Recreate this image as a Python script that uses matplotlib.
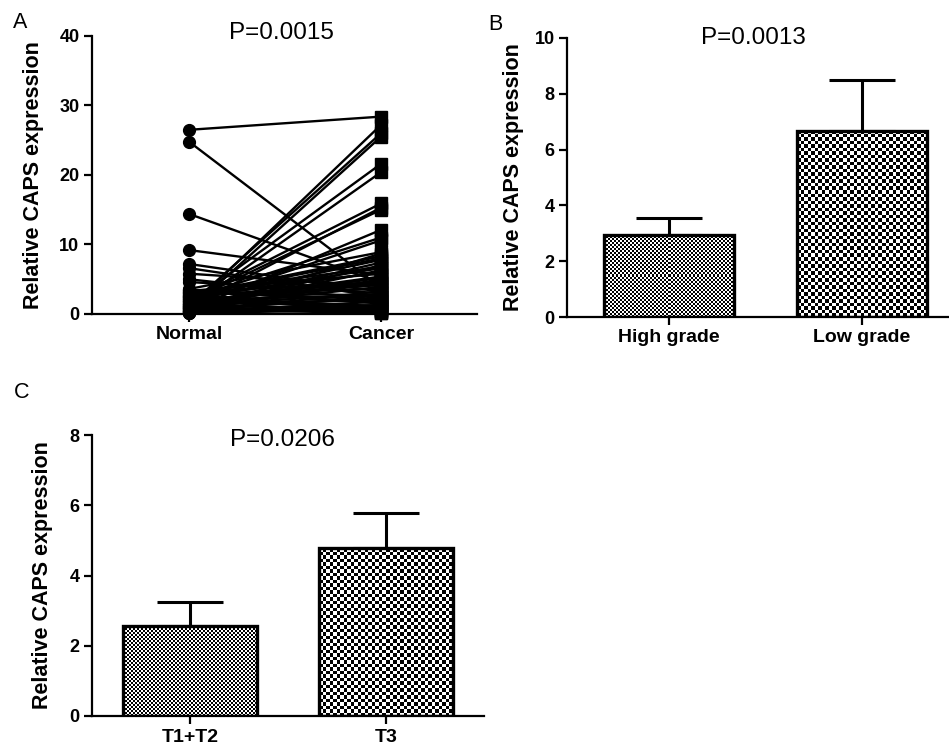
import numpy as np
import matplotlib
matplotlib.use("Agg")
import matplotlib.pyplot as plt

plt.rcParams['font.family'] = ['Liberation Sans', 'DejaVu Sans']

# Panel A: paired samples (normal -> cancer)
normal_vals = [26.5, 24.8, 14.4, 9.2, 7.2, 6.6, 5.8, 5.0, 4.6, 3.5,
               0.8, 1.2, 0.5, 1.5, 0.9, 2.0, 1.0, 1.8, 0.6, 2.2,
               1.4, 0.3, 2.6, 1.1, 3.0, 0.7, 2.4, 1.6, 0.4, 3.2,
               1.9, 2.8, 0.2, 1.3, 2.1, 0.9, 1.7, 3.4, 0.5, 2.5,
               1.2, 0.15, 2.9, 1.0, 0.35, 2.3, 0.6, 1.5, 3.1, 0.1,
               3.6, 2.7, 1.9, 0.8, 2.2, 3.3, 1.4, 0.45, 2.6, 1.1,
               3.0, 0.25, 1.75, 2.45, 0.7]
cancer_vals = [28.4, 3.8, 4.5, 5.6, 3.2, 2.5, 4.0, 2.0, 3.0, 1.5,
               27.2, 26.0, 25.5, 21.6, 20.4, 15.9, 15.3, 15.0, 12.1, 11.0,
               10.6, 8.7, 8.0, 7.4, 6.8, 6.3, 6.0, 5.4, 5.0, 4.6,
               4.2, 3.6, 3.3, 2.9, 2.6, 2.2, 1.9, 1.6, 1.3, 1.0,
               0.8, 0.6, 0.4, 0.3, 1.1, 0.5, 2.4, 0.2, 2.1, 0.9,
               8.9, 8.3, 7.8, 7.0, 6.6, 5.8, 5.2, 4.8, 4.4, 3.9,
               2.7, 1.8, 1.2, 0.7, 0.1]
groups_a = ['Normal', 'Cancer']

# Panel B: grade
groups_b = ['High grade', 'Low grade']
mean_b = [2.95, 6.67]
err_b = [0.6, 1.82]

# Panel C: T stage
groups_c = ['T1+T2', 'T3']
mean_c = [2.55, 4.77]
err_c = [0.7, 1.0]

W, H = 949, 749
fig = plt.figure(figsize=(W / 100, H / 100), dpi=100)


def px_axes(left, right, top, bottom):
    return fig.add_axes([left / W, 1 - bottom / H, (right - left) / W, (bottom - top) / H])


def style_axes(ax, labels, yticks, xlim, ylim):
    for s in ['top', 'right']:
        ax.spines[s].set_visible(False)
    for s in ['left', 'bottom']:
        ax.spines[s].set_linewidth(1.6)
    ax.set_xticks(range(len(labels)))
    ax.set_xticklabels(labels, fontsize=14, fontweight='bold')
    ax.set_yticks(yticks)
    ax.set_yticklabels([str(t) for t in yticks], fontsize=13, fontweight='bold')
    ax.tick_params(axis='both', direction='out', width=1.6, length=6, pad=3)
    ax.set_xlim(*xlim)
    ax.set_ylim(*ylim)
    ax.set_ylabel('Relative CAPS expression', fontsize=15.5, fontweight='bold')


def checker_fill(ax, bar, cell_px):
    x0, y0 = bar.get_x(), bar.get_y()
    x1, y1 = x0 + bar.get_width(), y0 + bar.get_height()
    (px0, py0), (px1, py1) = ax.transData.transform([(x0, y0), (x1, y1)])
    ncol = max(1, int(round((px1 - px0) / cell_px)))
    nrow = max(1, int(round((py1 - py0) / cell_px)))
    ii, jj = np.indices((nrow, ncol))
    board = ((ii + jj) % 2).astype(float)
    im = ax.imshow(board, cmap='gray', extent=[x0, x1, y0, y1], interpolation='nearest',
                   aspect='auto', zorder=2, origin='lower')
    im.set_clip_path(bar)


def bar_panel(ax, labels, means, errs, width, cells, yticks, xlim, ylim):
    style_axes(ax, labels, yticks, xlim, ylim)
    x = np.arange(len(labels))
    ax.errorbar(x, means, yerr=[np.zeros(len(errs)), errs], fmt='none', ecolor='black',
                elinewidth=2.2, capsize=24, capthick=2.2, zorder=1)
    bars = ax.bar(x, means, width=width, facecolor='none', edgecolor='black',
                  linewidth=2.4, zorder=3)
    for b, c in zip(bars, cells):
        checker_fill(ax, b, c)
    ax.set_xlim(*xlim)
    ax.set_ylim(*ylim)


# Panel A
axA = px_axes(92, 477, 36, 314)
style_axes(axA, groups_a, [0, 10, 20, 30, 40], (-0.505, 1.5), (0, 40))
for n, c in zip(normal_vals, cancer_vals):
    axA.plot([0, 1], [n, c], color='black', lw=1.7, zorder=2)
axA.plot(np.zeros(len(normal_vals)), normal_vals, 'o', color='black', ms=8.5,
         clip_on=False, zorder=3)
axA.plot(np.ones(len(cancer_vals)), cancer_vals, 's', color='black', ms=8.5,
         clip_on=False, zorder=3)
axA.yaxis.set_label_coords(-0.124, 0.5)
fig.text(20 / W, 1 - 23 / H, 'A', fontsize=15.5, ha='center', va='center')
fig.text(281 / W, 1 - 33 / H, 'P=0.0015', fontsize=17.5, ha='center', va='center')

# Panel B
axB = px_axes(567, 949, 38, 317)
bar_panel(axB, groups_b, mean_b, err_b, 0.674, [2.0, 3.5], [0, 2, 4, 6, 8, 10],
          (-0.528, 1.451), (0, 10))
axB.yaxis.set_label_coords(-0.1126, 0.5)
fig.text(495 / W, 1 - 24 / H, 'B', fontsize=15.5, ha='center', va='center')
fig.text(753 / W, 1 - 38 / H, 'P=0.0013', fontsize=17.5, ha='center', va='center')

# Panel C
axC = px_axes(92, 484, 435, 716)
bar_panel(axC, groups_c, mean_c, err_c, 0.68, [2.0, 3.5], [0, 2, 4, 6, 8],
          (-0.5, 1.5), (0, 8))
axC.yaxis.set_label_coords(-0.0995, 0.5)
fig.text(22 / W, 1 - 393 / H, 'C', fontsize=15.5, ha='center', va='center')
fig.text(282 / W, 1 - 440 / H, 'P=0.0206', fontsize=17.5, ha='center', va='center')

fig.savefig('out.png', dpi=100)
